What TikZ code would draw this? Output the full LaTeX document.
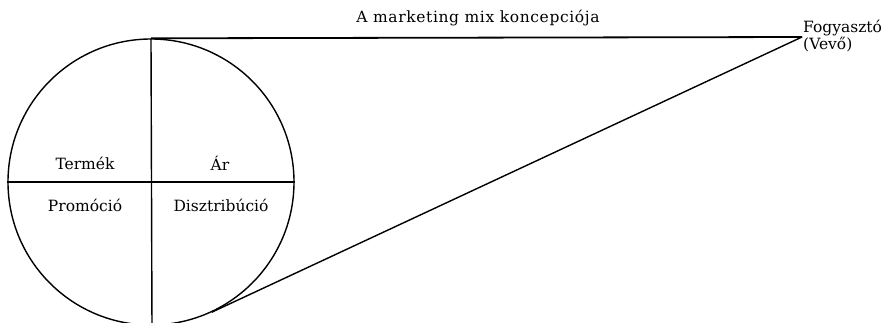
\documentclass[tikz,border=0pt]{standalone}
\usepackage{fontspec}
\setmainfont{DejaVu Serif}
\newfontfamily\spacedfont[LetterSpace=4]{DejaVu Serif}
\usetikzlibrary{calc}
\begin{document}
\begin{tikzpicture}[x=1pt,y=-1pt,
  lbl/.style={inner sep=0pt, font=\fontsize{15.5}{17}\selectfont},
  ttl/.style={inner sep=0pt, font=\spacedfont\fontsize{15.5}{17}\selectfont},
  thinline/.style={line width=1.4pt},
  thickline/.style={line width=1.8pt}]
\useasboundingbox (0,0) rectangle (886,322);
\clip (0,0) rectangle (886,322);
\node[circle, draw, thinline, minimum size=286pt, inner sep=0pt] (c) at (151,182) {};
\coordinate (P) at (802,37);
\coordinate (low) at (tangent cs:node=c,point={(P)},solution=2);
\coordinate (vb) at (152,330);
\draw[thickline] (c.north) -- (P);
\draw[thinline] (P) -- (low);
\draw[thinline] (c.north) -- (vb);
\draw[thinline] (c.west) -- (c.east);
\node[lbl] (termek) at (85,163) {Termék};
\node[lbl] (ar) at (220,163) {Ár};
\node[lbl] (promo) at (85,205) {Promóció};
\node[lbl] (disz) at (221,205) {Disztribúció};
\node[ttl] (title) at (478,18) {A marketing mix koncepciója};
\node[lbl, anchor=west, align=left, font=\fontsize{15.5}{15}\selectfont] (fogy) at (803,36) {Fogyasztó\\(Vevő)};
\end{tikzpicture}
\end{document}
